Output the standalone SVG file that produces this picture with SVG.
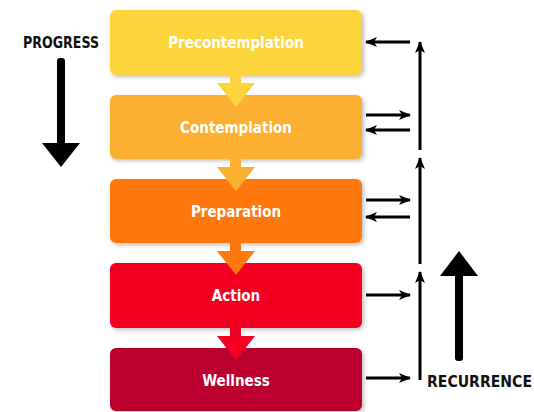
<svg xmlns="http://www.w3.org/2000/svg" width="534" height="412" viewBox="0 0 534 412">
<defs>
<style>
.lbl{font-family:"DejaVu Sans Condensed","DejaVu Sans",sans-serif;font-stretch:condensed;font-weight:bold;font-size:15px;fill:#fff;text-anchor:middle}
.side{font-family:"DejaVu Sans Condensed","DejaVu Sans",sans-serif;font-stretch:condensed;font-weight:bold;font-size:15.5px;fill:#111}
.ln{stroke:#000;stroke-width:3;fill:none;marker-end:url(#ah)}
</style>
<filter id="sh" x="-10%" y="-20%" width="120%" height="150%">
<feDropShadow dx="2" dy="2" stdDeviation="2" flood-color="#000" flood-opacity="0.25"/>
</filter>
<marker id="ah" viewBox="0 0 12 10" refX="11" refY="5" markerWidth="4" markerHeight="3.6" orient="auto" markerUnits="strokeWidth">
<path d="M0,0 L12,5 L0,10 L3,5 Z" fill="#000"/>
</marker>
</defs>
<rect width="534" height="412" fill="#fff"/>

<g id="precontemplation">
<rect x="110" y="10" width="252" height="65" rx="6" fill="#FCD53C" filter="url(#sh)"/>
<text class="lbl" x="236" y="48">Precontemplation</text>
</g>
<g id="contemplation">
<rect x="110" y="95" width="252" height="64" rx="6" fill="#FBB032" filter="url(#sh)"/>
<text class="lbl" x="236" y="133">Contemplation</text>
</g>
<g id="preparation">
<rect x="110" y="179" width="252" height="64" rx="6" fill="#FE7810" filter="url(#sh)"/>
<text class="lbl" x="236" y="217">Preparation</text>
</g>
<g id="action">
<rect x="110" y="263" width="252" height="65" rx="6" fill="#F20124" filter="url(#sh)"/>
<text class="lbl" x="236" y="301">Action</text>
</g>
<g id="wellness">
<rect x="110" y="348" width="252" height="63" rx="6" fill="#BC002E" filter="url(#sh)"/>
<text class="lbl" x="236" y="386">Wellness</text>
</g>

<g id="progress">
<text class="side" x="23" y="48" textLength="76" lengthAdjust="spacingAndGlyphs">PROGRESS</text>
<rect x="57" y="58" width="8" height="87" rx="3" fill="#000"/>
<path d="M42,143 L80,143 L61,167 Z" fill="#000"/>
</g>

<g id="recurrence">
<text class="side" x="427" y="387" textLength="105" lengthAdjust="spacingAndGlyphs">RECURRENCE</text>
<rect x="455" y="270" width="8" height="91" rx="3" fill="#000"/>
<path d="M440,276 L478,276 L459,251 Z" fill="#000"/>
</g>

<g id="connectors">
<path d="M230,74 h11 v9 h14 l-19,24 l-19,-24 h13 Z" fill="#FCD53C"/>
<path d="M230,158 h11 v9 h14 l-19,24 l-19,-24 h13 Z" fill="#FBB032"/>
<path d="M230,242 h11 v9 h14 l-19,24 l-19,-24 h13 Z" fill="#FE7810"/>
<path d="M230,327 h11 v9 h14 l-19,24 l-19,-24 h13 Z" fill="#F20124"/>

<line class="ln" x1="420" y1="150" x2="420" y2="42"/>
<line class="ln" x1="420" y1="264" x2="420" y2="158"/>
<line class="ln" x1="420" y1="380" x2="420" y2="272"/>

<line class="ln" x1="410" y1="42" x2="366" y2="42"/>
<line class="ln" x1="366" y1="115" x2="410" y2="115"/>
<line class="ln" x1="410" y1="130" x2="366" y2="130"/>
<line class="ln" x1="366" y1="200" x2="410" y2="200"/>
<line class="ln" x1="410" y1="217" x2="366" y2="217"/>
<line class="ln" x1="366" y1="295" x2="410" y2="295"/>
<line class="ln" x1="366" y1="378" x2="410" y2="378"/>
</g>
</svg>
